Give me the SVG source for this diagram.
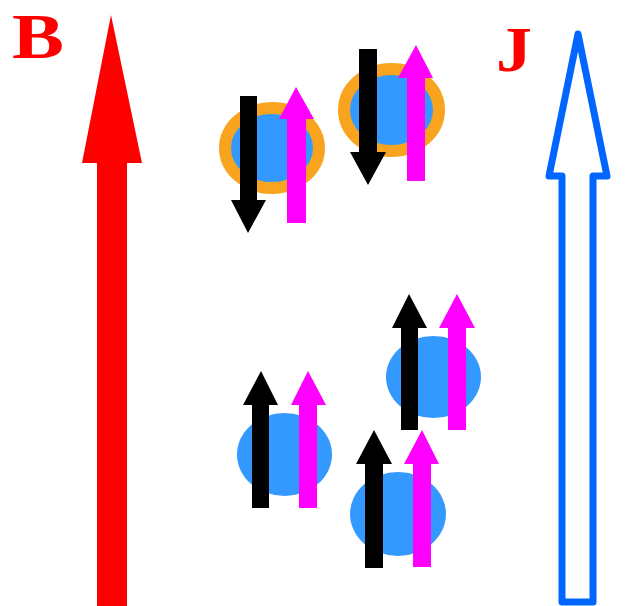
<svg xmlns="http://www.w3.org/2000/svg" width="628" height="606" viewBox="0 0 628 606">
<style>
.lbl{font-family:"Liberation Serif","DejaVu Serif",serif;font-weight:bold;fill:#ff0000}
.core{fill:#3399ff}
.shell{fill:#3399ff;stroke:#f9a41e;stroke-width:12}
.blk{fill:#000000}
.mag{fill:#ff00ff}
</style>
<rect width="628" height="606" fill="#ffffff"/>
<g id="B-field">
<polygon points="111,15 142,163 127,163 127,606 97,606 97,163 82,163" fill="#ff0000"/>
<text class="lbl" x="12" y="58" font-size="64" textLength="52" lengthAdjust="spacingAndGlyphs">B</text>
</g>
<g id="J-current">
<path d="M562,602 L562,176 L549,176 L578,34 L607,176 L593,176 L593,602 Z" fill="none" stroke="#0066ff" stroke-width="7" stroke-linejoin="round"/>
<text class="lbl" x="496" y="71" font-size="64" textLength="36" lengthAdjust="spacingAndGlyphs">J</text>
</g>
<g id="particle1">
<ellipse class="shell" cx="272" cy="148" rx="47" ry="40"/>
<polygon class="blk" points="240,96 257,96 257,200 266,200 248,233 231,200 240,200"/>
<polygon class="mag" points="296,87 314,119 306,119 306,223 287,223 287,119 279,119"/>
</g>
<g id="particle2">
<ellipse class="shell" cx="391.5" cy="110" rx="47.5" ry="41"/>
<polygon class="blk" points="359,49 377,49 377,152 386,152 368,185 350,152 359,152"/>
<polygon class="mag" points="416,45 433,78 425,78 425,181 407,181 407,78 398,78"/>
</g>
<g id="particle3">
<ellipse class="core" cx="433.5" cy="377" rx="47.5" ry="41"/>
<polygon class="blk" points="409,294 427,328 418,328 418,430 401,430 401,328 392,328"/>
<polygon class="mag" points="457,294 475,328 466,328 466,430 448,430 448,328 439,328"/>
</g>
<g id="particle4">
<ellipse class="core" cx="284.5" cy="454.5" rx="47.5" ry="41.5"/>
<polygon class="blk" points="261,371 278,405 269,405 269,508 252,508 252,405 243,405"/>
<polygon class="mag" points="308,371 326,405 317,405 317,508 299,508 299,405 291,405"/>
</g>
<g id="particle5">
<ellipse class="core" cx="398" cy="514" rx="48" ry="42"/>
<polygon class="blk" points="374,430 392,464 383,464 383,568 365,568 365,464 356,464"/>
<polygon class="mag" points="422,430 439,464 431,464 431,567 413,567 413,464 404,464"/>
</g>
<g id="connectors"></g>
</svg>
